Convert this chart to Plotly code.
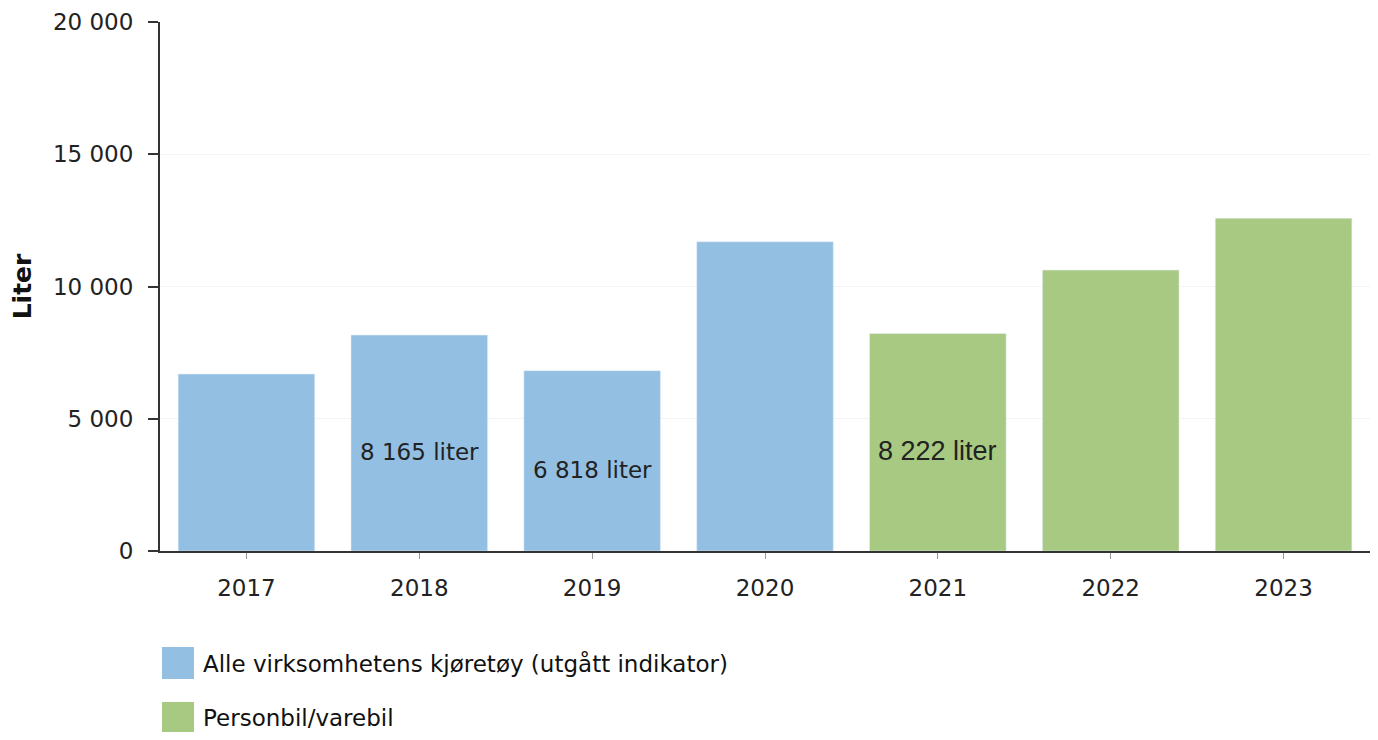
import plotly.graph_objects as go

years = ["2017", "2018", "2019", "2020", "2021", "2022", "2023"]
series_all_names = "Alle virksomhetens kjøretøy (utgått indikator)"
series_car_names = "Personbil/varebil"
all_years = ["2017", "2018", "2019", "2020"]
all_values = [6690, 8165, 6818, 11690]
car_years = ["2021", "2022", "2023"]
car_values = [8222, 10620, 12580]
labelled_years = ["2018", "2019", "2021"]
y_ticks = [0, 5000, 10000, 15000, 20000]

BLUE = "#93C0E2"
GREEN = "#A7C981"
FONT = "DejaVu Sans"

# figure is placed at (8, 8) in the page by the default body margin
W, H = 1362, 724
L, T = 152, 14
PLOT_B = 543  # plot bottom in figure coords
R = 0
B = H - PLOT_B
PH = PLOT_B - T
PW = W - L - R


def fmt(v):
    return f"{v:,}".replace(",", " ") + " liter"


fig = go.Figure()
fig.add_trace(go.Bar(
    x=all_years, y=all_values, name=series_all_names, marker_color=BLUE,
    showlegend=False,
))
fig.add_trace(go.Bar(
    x=car_years, y=car_values, name=series_car_names, marker_color=GREEN,
    showlegend=False,
))

# value labels inside selected bars (slightly below bar middle)
for yrs, vals, fam, size in [(all_years, all_values, FONT, 23),
                             (car_years, car_values, "Liberation Sans", 27)]:
    for y, v in zip(yrs, vals):
        if y in labelled_years:
            fig.add_annotation(x=years.index(y), y=v / 2, yshift=-9, text=fmt(v),
                               showarrow=False,
                               font=dict(family=fam, size=size, color="#222"))

fig.update_layout(
    width=W, height=H,
    margin=dict(l=L, r=R, t=T, b=B),
    paper_bgcolor="white", plot_bgcolor="white",
    barmode="relative", bargap=0.21,
    separators=", ",
    font=dict(family=FONT, size=22, color="#222"),
    xaxis=dict(
        type="category", categoryorder="array", categoryarray=years,
        showline=True, linecolor="#333", linewidth=2,
        ticks="outside", ticklen=6, tickcolor="#999", tickwidth=1,
        ticklabelstandoff=9,
        tickfont=dict(family=FONT, size=23, color="#222"),
        showgrid=False,
    ),
    yaxis=dict(
        range=[0, 20000], tickvals=y_ticks, tickformat=",d",
        showline=True, linecolor="#333", linewidth=2,
        ticks="outside", ticklen=10, tickcolor="#333", tickwidth=2,
        ticklabelstandoff=10,
        tickfont=dict(family=FONT, size=23, color="#222"),
        gridcolor="#f3f3f3", gridwidth=1, zeroline=False,
        title=dict(text="<b>Liter</b>", font=dict(family=FONT, size=25, color="#111"), standoff=16),
    ),
)


# Manual legend (swatches + labels) below the plot; page coords converted to paper
def px_to_paper_x(px):
    return (px - 8 - L) / PW


def py_to_paper_y(py):
    return (PLOT_B - (py - 8)) / PH


legend_items = [(series_all_names, BLUE, 663), (series_car_names, GREEN, 718)]
for name, color, py in legend_items:
    fig.add_shape(type="rect", xref="paper", yref="paper",
                  x0=px_to_paper_x(162), x1=px_to_paper_x(194),
                  y0=py_to_paper_y(py + 16), y1=py_to_paper_y(py - 16),
                  fillcolor=color, line=dict(width=0))
    fig.add_annotation(xref="paper", yref="paper",
                       x=px_to_paper_x(201), y=py_to_paper_y(py),
                       text=name, showarrow=False, xanchor="left", yanchor="middle",
                       font=dict(family=FONT, size=23, color="#111"))

fig.write_html("out.html")
